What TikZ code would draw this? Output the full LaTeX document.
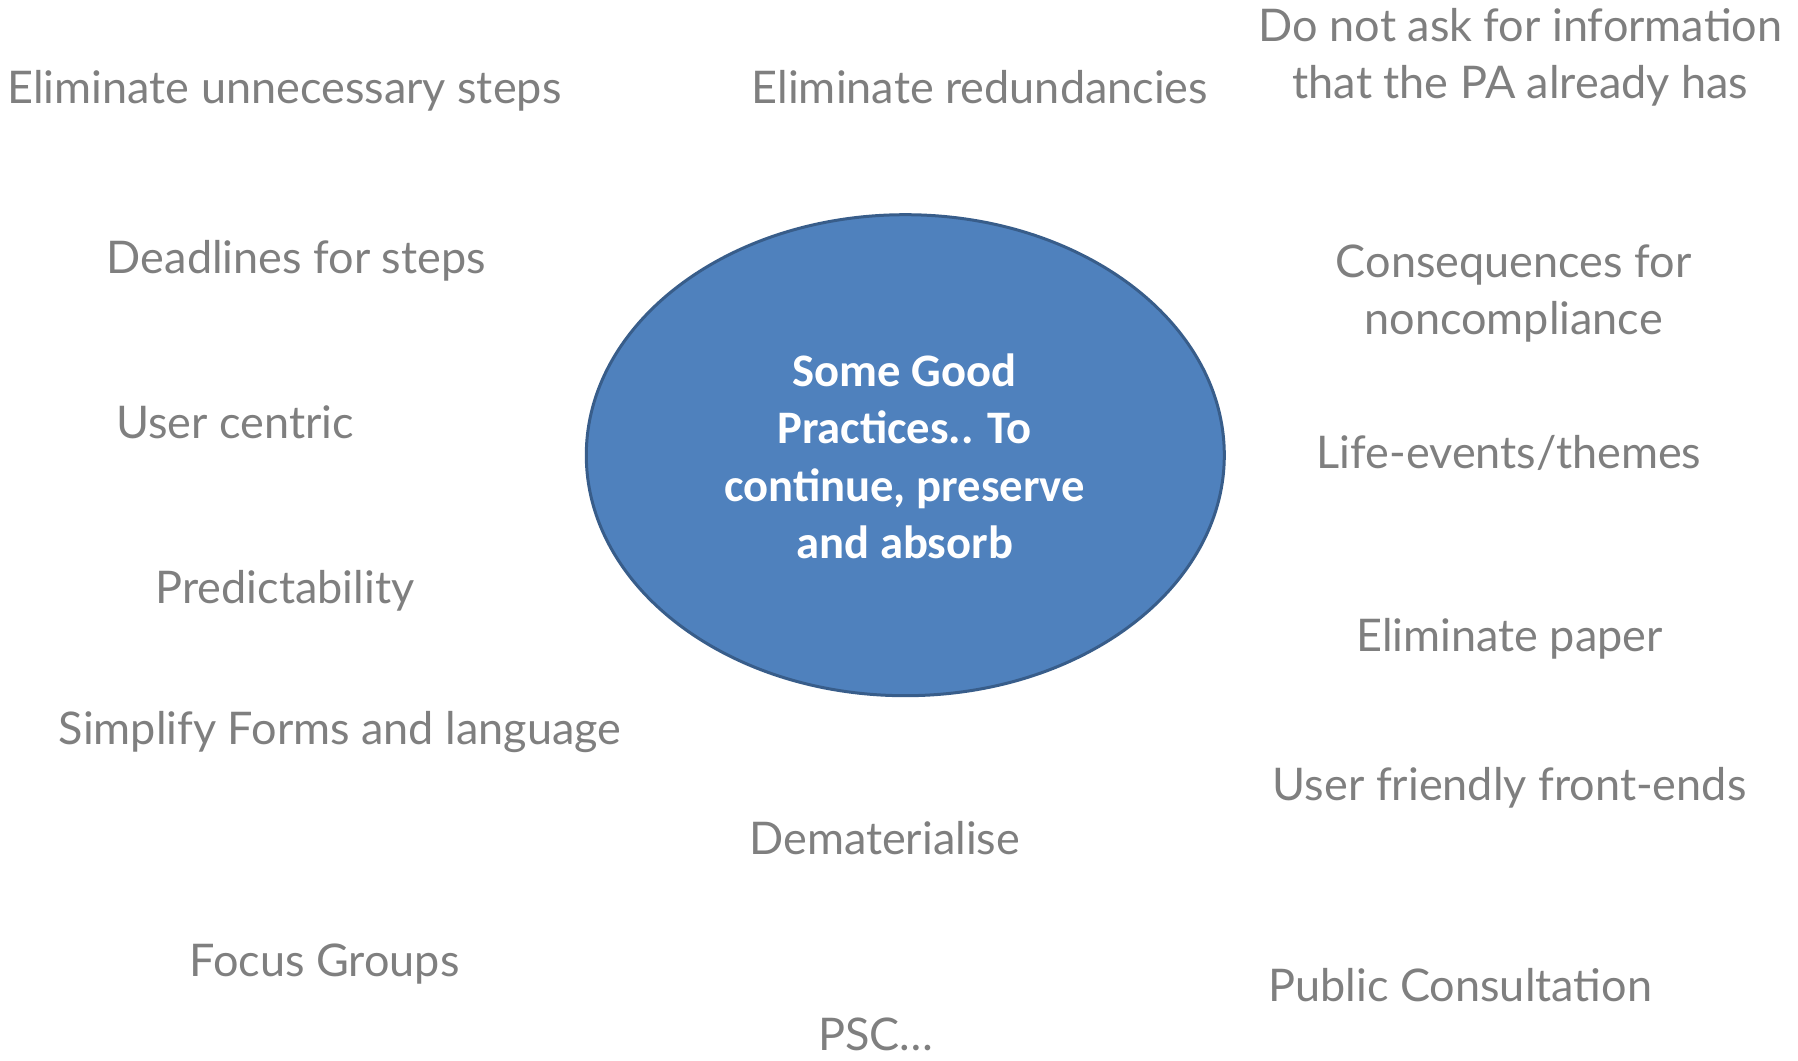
\documentclass[tikz,border=0pt]{standalone}
\usepackage{fontspec}
\setmainfont{Lato}
\newfontfamily\calfont{Carlito}
\definecolor{greytxt}{HTML}{7F7F7F}
\definecolor{ellfill}{HTML}{4F81BD}
\definecolor{elldraw}{HTML}{385D8A}
\tikzset{
  item/.style={text=greytxt, font=\fontsize{45}{56.5}\selectfont, align=center, inner sep=0pt, text height=30pt, text depth=9pt, anchor=north},
  hub/.style={ellipse, draw=elldraw, line width=3pt, fill=ellfill, minimum width=638pt, minimum height=481pt, inner sep=0pt},
  hubtxt/.style={text=white, font=\calfont\bfseries\fontsize{46.6}{57.3}\selectfont, align=center, inner sep=0pt}
}
\usetikzlibrary{shapes.geometric}
\begin{document}
\begin{tikzpicture}[x=1pt,y=-1pt]
\useasboundingbox[fill=white] (0,0) rectangle (1798,1060);
\node[hub] (hub) at (905.3,455.2) {};
\node[hubtxt] (hubt) at (904.7,456.4) {Some Good\\Practices.. To\\continue, preserve\\and absorb};
\node[item] (n1) at (284.4,73) {Eliminate unnecessary steps};
\node[item] (n2) at (979.9,73) {Eliminate redundancies};
\node[item] (n3) at (1520.5,68) {Do not ask for information\\that the PA already has};
\node[item] (n4) at (296.4,243) {Deadlines for steps};
\node[item] (n5) at (1513.6,304) {Consequences for\\noncompliance};
\node[item] (n6) at (235,408) {User centric};
\node[item] (n7) at (1509,438.3) {Life-events/themes};
\node[item] (n8) at (285,573.3) {Predictability};
\node[item] (n9) at (1509.6,621.1) {Eliminate paper};
\node[item] (n10) at (340,714) {Simplify Forms and language};
\node[item] (n11) at (1509.6,770.1) {User friendly front-ends};
\node[item] (n12) at (884.7,824.3) {Dematerialise};
\node[item] (n13) at (324.5,946.7) {Focus Groups};
\node[item] (n14) at (1460.3,971.7) {Public Consultation};
\node[item, text depth=2pt] (n15) at (876,1020.5) {PSC…};
\end{tikzpicture}
\end{document}
